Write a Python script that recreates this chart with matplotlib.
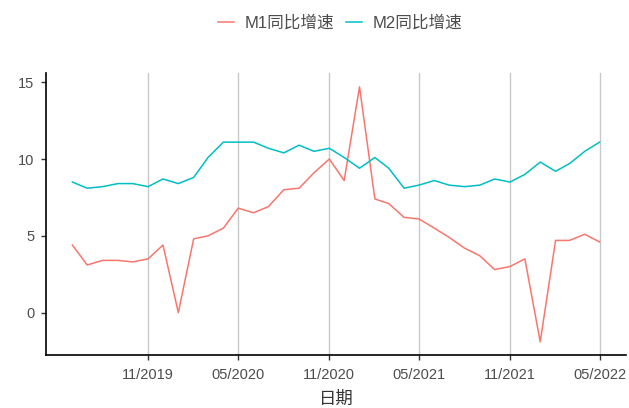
import matplotlib
matplotlib.use("Agg")
import matplotlib.pyplot as plt
import matplotlib.dates as mdates
import pandas as pd

plt.rcParams['font.family'] = ['Liberation Sans', 'Noto Sans CJK SC', 'DejaVu Sans']

dates = pd.date_range("2019-06-01", "2022-05-01", freq="MS")
m1 = [4.4, 3.1, 3.4, 3.4, 3.3, 3.5, 4.4, 0.0, 4.8, 5.0, 5.5, 6.8,
      6.5, 6.9, 8.0, 8.1, 9.1, 10.0, 8.6, 14.7, 7.4, 7.1, 6.2, 6.1,
      5.5, 4.9, 4.2, 3.7, 2.8, 3.0, 3.5, -1.9, 4.7, 4.7, 5.1, 4.6]
m2 = [8.5, 8.1, 8.2, 8.4, 8.4, 8.2, 8.7, 8.4, 8.8, 10.1, 11.1, 11.1,
      11.1, 10.7, 10.4, 10.9, 10.5, 10.7, 10.1, 9.4, 10.1, 9.4, 8.1, 8.3,
      8.6, 8.3, 8.2, 8.3, 8.7, 8.5, 9.0, 9.8, 9.2, 9.7, 10.5, 11.1]
series_names = ["M1同比增速", "M2同比增速"]
colors = ["#F8766D", "#00BFC4"]
xticks = pd.to_datetime(["2019-11-01", "2020-05-01", "2020-11-01",
                         "2021-05-01", "2021-11-01", "2022-05-01"])
yticks = [0, 5, 10, 15]

fig = plt.figure(figsize=(6.29, 4.08), dpi=100)
ax = fig.add_axes([46/629, 1-355/408, (626-46)/629, (355-73)/408])

for xt in xticks:
    ax.axvline(xt, color="#C8C8C8", lw=1.0, zorder=0)

lines = []
for vals, name, c in zip([m1, m2], series_names, colors):
    l, = ax.plot(dates, vals, color=c, lw=1.1, label=name)
    lines.append(l)

span = dates[-1] - dates[0]
ax.set_xlim(dates[0] - span*0.05, dates[-1] + span*0.05)
ax.set_ylim(-2.76, 15.6)
ax.set_xticks(xticks)
ax.xaxis.set_major_formatter(mdates.DateFormatter("%m/%Y"))
ax.set_yticks(yticks)
ax.tick_params(axis="both", colors="#333333", labelcolor="#4D4D4D",
               labelsize=10.5, length=3.5, width=1.0)
ax.tick_params(axis="x", pad=6)
ax.tick_params(axis="y", pad=5)
for s in ["top", "right"]:
    ax.spines[s].set_visible(False)
for s in ["left", "bottom"]:
    ax.spines[s].set_linewidth(1.2)
    ax.spines[s].set_color("black")
ax.set_xlabel("日期", fontsize=12.5, color="#333333", labelpad=6)

fig.legend(handles=lines, labels=series_names, loc="center",
           bbox_to_anchor=(340/629, 1-23/408), ncol=2, frameon=False,
           fontsize=12, handlelength=1.0, handletextpad=0.6,
           columnspacing=0.7, labelcolor="#4D4D4D")

fig.savefig("out.png", dpi=100)
